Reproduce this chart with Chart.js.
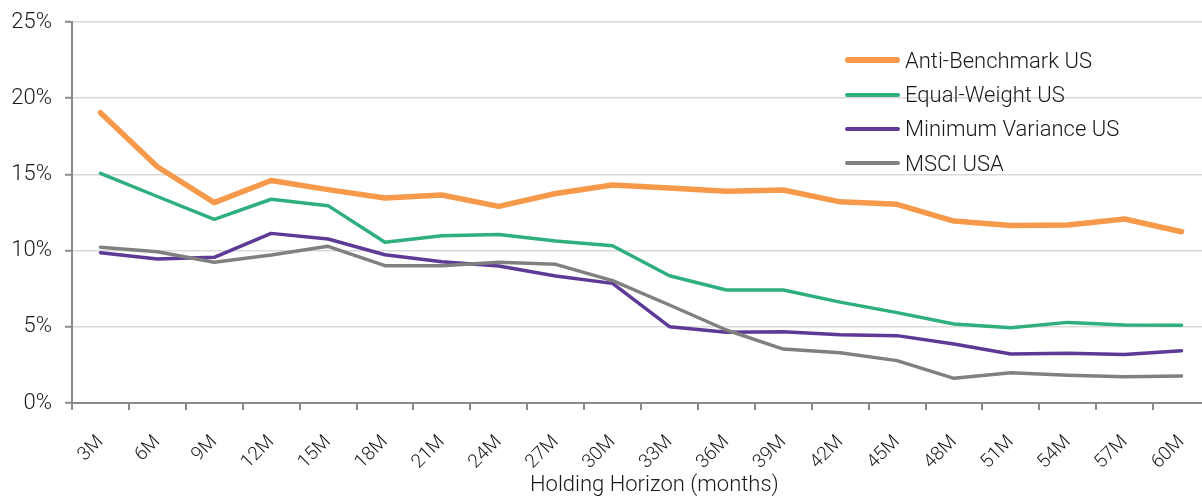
<!DOCTYPE html>
<html>
<head>
<meta charset="utf-8">
<script src="https://cdn.jsdelivr.net/npm/chart.js@4/dist/chart.umd.min.js"></script>
<style>
  html, body { margin: 0; padding: 0; background: #fff; overflow: hidden; }
  #wrap { position: relative; width: 1202px; height: 498px; overflow: hidden; }
  #chart { position: absolute; left: 0; top: 0; }
  #legend { position: absolute; left: 845px; top: 43px; font-family: Roboto, "Liberation Sans", sans-serif; font-weight: 300; font-size: 22px; color: #1a1a1a; }
  #legend .row { display: flex; align-items: center; height: 34.4px; }
  #legend .swatch { width: 55px; border-radius: 3px; margin-right: 5px; }
  #xtitle { position: absolute; left: 530px; top: 473px; font-family: Roboto, "Liberation Sans", sans-serif; font-weight: 300; font-size: 22px; line-height: 22px; color: #1a1a1a; white-space: nowrap; }
</style>
</head>
<body>
<div id="wrap">
  <canvas id="chart" width="1226" height="498"></canvas>
  <div id="legend"></div>
  <div id="xtitle"></div>
</div>
<script>
const horizons = ["3M","6M","9M","12M","15M","18M","21M","24M","27M","30M",
                  "33M","36M","39M","42M","45M","48M","51M","54M","57M","60M"];

const antiBenchmark = [19.05,15.5,13.15,14.6,14.0,13.45,13.65,12.9,13.75,14.3,
                       14.1,13.9,13.98,13.2,13.04,11.94,11.64,11.68,12.07,11.24];
const equalWeight   = [15.07,13.55,12.05,13.37,12.95,10.55,10.98,11.06,10.63,10.32,
                       8.35,7.41,7.41,6.62,5.93,5.18,4.94,5.29,5.12,5.1];
const minVariance   = [9.86,9.45,9.56,11.13,10.76,9.73,9.27,8.99,8.33,7.85,
                       5.01,4.64,4.68,4.48,4.42,3.87,3.22,3.26,3.19,3.43];
const msciUsa       = [10.22,9.93,9.23,9.71,10.28,9.01,9.01,9.23,9.1,8.03,
                       6.43,4.79,3.54,3.3,2.78,1.62,1.99,1.82,1.73,1.77];

const yTicks = [0, 5, 10, 15, 20, 25];

const seriesNames = ["Anti-Benchmark US", "Equal-Weight US", "Minimum Variance US", "MSCI USA"];
const seriesColors = ["#F7994A", "#2EAF7D", "#5E3A97", "#808080"];
const seriesWidths = [5.5, 3.5, 3.5, 3.5];
const seriesData = [antiBenchmark, equalWeight, minVariance, msciUsa];
const xTitle = 'Holding Horizon (months)';

const fontFamily = 'Roboto, "Liberation Sans", sans-serif';

const datasets = seriesNames.map((name, i) => ({
  label: name,
  data: seriesData[i],
  borderColor: seriesColors[i],
  backgroundColor: seriesColors[i],
  borderWidth: seriesWidths[i],
  pointRadius: 0,
  tension: 0,
  borderCapStyle: 'round',
  borderJoinStyle: 'round',
  fill: false
}));

// draw the higher series last so they sit on top, like the original
datasets.reverse();

// canvas is a bit wider than the page: the plot runs past the right edge, as in the original.
// small lineHeight on tick fonts keeps Chart.js from eating into the plot area
const chart = new Chart(document.getElementById('chart'), {
  type: 'line',
  data: { labels: horizons, datasets },
  options: {
    responsive: false,
    animation: false,
    layout: { autoPadding: false, padding: { left: 0, right: 16, top: 22, bottom: 0 } },
    plugins: {
      legend: { display: false },
      tooltip: { enabled: false }
    },
    scales: {
      x: {
        offset: true,
        grid: { drawOnChartArea: false, drawTicks: true, tickLength: 7, color: '#8a8a8a', lineWidth: 2, offset: true },
        border: { color: '#8a8a8a', width: 2 },
        ticks: {
          color: '#1a1a1a', minRotation: 45, maxRotation: 45, padding: 25,
          font: { family: fontFamily, size: 19, weight: '300', lineHeight: 0.6 }
        },
        afterFit: (s) => { s.height = 95; }
      },
      y: {
        min: 0, max: 25,
        afterBuildTicks: (s) => { s.ticks = yTicks.map(v => ({ value: v })); },
        grid: { color: '#d9d9d9', lineWidth: 1.5, tickColor: '#8a8a8a', tickLength: 7, tickWidth: 2 },
        border: { color: '#8a8a8a', width: 2 },
        ticks: {
          color: '#1a1a1a', padding: 13,
          font: { family: fontFamily, size: 22, weight: '300', lineHeight: 0.6 },
          callback: (v) => v + '%'
        },
        afterFit: (s) => { s.width = 72; }
      }
    }
  }
});

// axis title sits a little right of the visible plot centre in the original
document.getElementById('xtitle').textContent = xTitle;

const legendEl = document.getElementById('legend');
seriesNames.forEach((name, i) => {
  const row = document.createElement('div');
  row.className = 'row';
  const sw = document.createElement('span');
  sw.className = 'swatch';
  sw.style.height = (i === 0 ? 6 : 4) + 'px';
  sw.style.background = seriesColors[i];
  const tx = document.createElement('span');
  tx.textContent = name;
  row.appendChild(sw);
  row.appendChild(tx);
  legendEl.appendChild(row);
});
</script>
</body>
</html>
